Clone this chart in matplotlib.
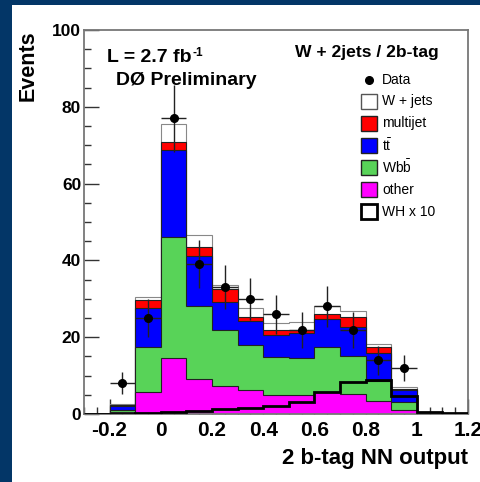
import matplotlib.pyplot as plt
import matplotlib.patches as mpatches
from matplotlib.ticker import MultipleLocator
import numpy as np

# --- Data ---
BIN_EDGES = np.round(np.arange(-0.3, 1.2001, 0.1), 2)

# stack contributions per bin (bottom -> top)
other    = [0, 0.4, 5.6, 14.6, 9.2, 7.2, 6.3, 5.0, 4.9, 5.6, 5.1, 3.5, 1.0, 0.1, 0]
wbb      = [0, 0.6, 11.8, 31.4, 18.9, 14.6, 11.7, 9.9, 9.8, 11.9, 10.0, 5.2, 2.0, 0.1, 0]
ttbar    = [0, 1.2, 10.1, 22.8, 13.1, 7.3, 6.2, 5.8, 6.3, 7.2, 7.5, 7.1, 3.2, 0.1, 0]
multijet = [0, 0.1, 2.2, 2.1, 2.4, 3.5, 1.0, 1.2, 0.9, 1.3, 2.7, 1.6, 0.4, 0.05, 0]
wjets    = [0, 0.2, 0.8, 4.6, 3.0, 0.9, 2.3, 1.8, 2.0, 2.2, 1.5, 0.7, 0.5, 0.05, 0.1]
wh_x10   = [0, 0.1, 0.2, 0.4, 0.85, 1.3, 1.65, 2.1, 3.2, 5.6, 8.4, 8.9, 4.7, 0.5, 0.2]
data     = [0, 8, 25, 77, 39, 33, 30, 26, 22, 28, 22, 14, 12, 0, 0]

STACK_COLORS = ['#ff00ff', '#58d358', '#0000ff', '#ff0000', '#ffffff']

BORDER = '#033667'

plt.rcParams['font.family'] = ['Liberation Sans', 'DejaVu Sans']
plt.rcParams['mathtext.fontset'] = 'custom'
plt.rcParams['mathtext.rm'] = 'Liberation Sans'
plt.rcParams['mathtext.bf'] = 'Liberation Sans:bold'

fig = plt.figure(figsize=(4.81, 4.82), dpi=100, facecolor=BORDER)
fig.patches.append(mpatches.Rectangle((12 / 481, 0), 1, 477 / 482, transform=fig.transFigure,
                                      facecolor='white', edgecolor='none', zorder=-10))
ax = fig.add_axes([84 / 481, 68 / 482, 384 / 481, 384 / 482])

# cumulative stack, draw from the top layer down so lower layers sit in front
layers = [other, wbb, ttbar, multijet, wjets]
cum = np.cumsum(np.array(layers), axis=0)
for i in range(len(layers) - 1, -1, -1):
    ec = '#888888' if i == len(layers) - 1 else '#222222'
    ax.stairs(cum[i], BIN_EDGES, baseline=0, fill=True, facecolor=STACK_COLORS[i],
              edgecolor=ec, linewidth=0.8, zorder=2)

# WH x 10 outline
ax.stairs(wh_x10, BIN_EDGES, baseline=0, color='black', linewidth=2, zorder=3)

# data
centers = 0.5 * (BIN_EDGES[:-1] + BIN_EDGES[1:])
d = np.array(data, dtype=float)
m = d > 0
ax.errorbar(centers[m], d[m], yerr=np.sqrt(d[m]), xerr=0.05, fmt='o', color='black',
            ecolor='#222222', elinewidth=1, markersize=5.5, capsize=0, zorder=4)

ax.set_xlim(-0.3, 1.2)
ax.set_ylim(0, 100)

for s in ax.spines.values():
    s.set_color('#777777')
    s.set_linewidth(1.3)

ax.xaxis.set_major_locator(MultipleLocator(0.2))
ax.xaxis.set_minor_locator(MultipleLocator(0.05))
ax.yaxis.set_major_locator(MultipleLocator(20))
ax.yaxis.set_minor_locator(MultipleLocator(5))
ax.tick_params(which='both', direction='in', top=False, right=False, color='#333333')
ax.tick_params(which='major', length=11, width=1)
ax.tick_params(which='minor', length=5, width=1)
ax.tick_params(axis='y', which='major', labelsize=12.5, pad=2)
ax.tick_params(axis='x', which='major', labelsize=15, pad=5)
ax.set_xticks([-0.2, 0, 0.2, 0.4, 0.6, 0.8, 1.0, 1.2])
ax.set_xticklabels(['-0.2', '0', '0.2', '0.4', '0.6', '0.8', '1', '1.2'])
for lab in ax.get_xticklabels() + ax.get_yticklabels():
    lab.set_fontweight('bold')

ax.text(-0.146, 1.0, 'Events', transform=ax.transAxes, rotation=90, ha='center', va='top',
        fontsize=15.5, fontweight='bold')
ax.text(1.0, -0.115, '2 b-tag NN output', transform=ax.transAxes, ha='right', va='center',
        fontsize=16, fontweight='bold')

lum = ax.text(0.06, 0.917, 'L = 2.7 fb', transform=ax.transAxes, ha='left',
              va='baseline', fontsize=14, fontweight='bold')
ax.annotate('-1', xy=(1.0, 1.0), xycoords=lum, xytext=(0.5, 1), textcoords='offset points',
            ha='left', va='top', fontsize=8.5, fontweight='bold')
ax.text(0.083, 0.857, 'DØ Preliminary', transform=ax.transAxes, ha='left', va='baseline',
        fontsize=14, fontweight='bold')
ax.text(0.925, 0.930, 'W + 2jets / 2b-tag', transform=ax.transAxes, ha='right', va='baseline',
        fontsize=12.6, fontweight='bold')

# legend drawn by hand (ROOT style)
def px_to_ax(x, y):
    return (x - 84) / 384, (414 - y) / 384

lx, ly = px_to_ax(369.3, 80)
ax.plot([lx], [ly], 'o', color='black', markersize=5.5, transform=ax.transAxes, clip_on=False)
tx, _ = px_to_ax(382, 0)
ax.text(tx, ly, 'Data', transform=ax.transAxes, ha='left', va='center', fontsize=10)

entries = [('W + jets', '#ffffff', '#555555', 1.0),
           ('multijet', '#ff0000', '#222222', 1.0),
           (r't$\mathrm{\bar{t}}$', '#0000ff', '#222222', 1.0),
           (r'Wb$\mathrm{\bar{b}}$', '#58d358', '#222222', 1.0),
           ('other', '#ff00ff', '#222222', 1.0),
           ('WH x 10', '#ffffff', '#000000', 2.0)]
for k, (lab, fc, ec, lw) in enumerate(entries):
    cy = 101.5 + 22 * k
    x0, y0 = px_to_ax(361, cy + 7.5)
    w = 16 / 384
    h = 15 / 384
    ax.add_patch(mpatches.Rectangle((x0, y0), w, h, transform=ax.transAxes, facecolor=fc,
                                    edgecolor=ec, linewidth=lw, clip_on=False, zorder=5))
    ax.text(tx, y0 + h / 2, lab, transform=ax.transAxes, ha='left', va='center', fontsize=10)

fig.savefig('out.png', dpi=100, facecolor=fig.get_facecolor())
